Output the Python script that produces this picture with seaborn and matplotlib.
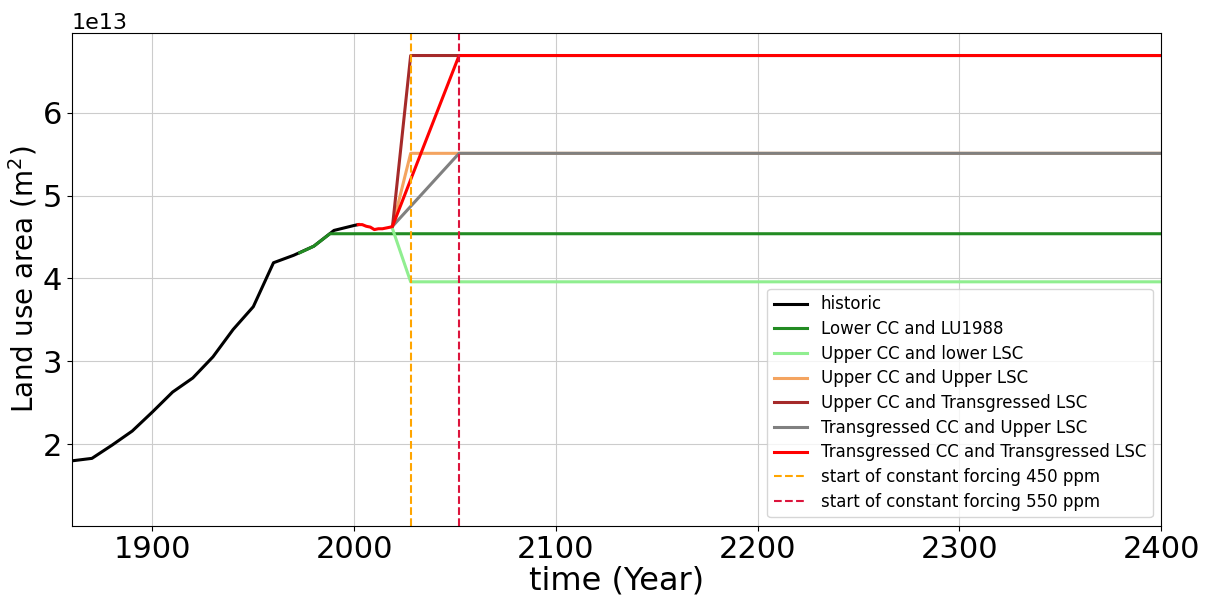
import matplotlib
matplotlib.use("Agg")
import matplotlib.pyplot as plt
import seaborn as sns
import pandas as pd

# values in units of 1e13 m^2
hist_years = [1860, 1870, 1880, 1890, 1900, 1910, 1920, 1930, 1940, 1950,
              1960, 1970, 1980, 1990, 2000, 2002]
hist_vals = [1.80, 1.83, 1.99, 2.16, 2.39, 2.63, 2.80, 3.055, 3.385, 3.66,
             4.19, 4.28, 4.39, 4.58, 4.64, 4.65]

# recent annual values (2002-2019)
recent_years = [2002, 2004, 2005, 2006, 2008, 2010, 2012, 2014, 2016, 2018, 2019]
recent_vals = [4.65, 4.65, 4.64, 4.63, 4.62, 4.59, 4.60, 4.60, 4.61, 4.62, 4.63]

lower_lu1988_years = [1973, 1980, 1988, 2400]
lower_lu1988_vals = [4.31, 4.39, 4.54, 4.54]

upper_lower_years = [2019, 2028, 2400]
upper_lower_vals = [4.60, 3.96, 3.96]

upper_upper_years = [2019, 2028, 2400]
upper_upper_vals = [4.63, 5.51, 5.51]

upper_trans_years = [2019, 2028, 2400]
upper_trans_vals = [4.63, 6.69, 6.69]

trans_upper_years = [2019, 2052, 2400]
trans_upper_vals = [4.63, 5.51, 5.51]

trans_trans_years = recent_years + [2052, 2400]
trans_trans_vals = recent_vals + [6.69, 6.69]

forcing_450 = 2028
forcing_550 = 2052

series = [
    ("historic", hist_years, hist_vals, "black"),
    ("Lower CC and LU1988", lower_lu1988_years, lower_lu1988_vals, "forestgreen"),
    ("Upper CC and lower LSC", upper_lower_years, upper_lower_vals, "lightgreen"),
    ("Upper CC and Upper LSC", upper_upper_years, upper_upper_vals, "sandybrown"),
    ("Upper CC and Transgressed LSC", upper_trans_years, upper_trans_vals, "brown"),
    ("Transgressed CC and Upper LSC", trans_upper_years, trans_upper_vals, "gray"),
    ("Transgressed CC and Transgressed LSC", trans_trans_years, trans_trans_vals, "red"),
]

rows = []
for name, yrs, vals, _ in series:
    for y, v in zip(yrs, vals):
        rows.append({"Year": y, "Area": v * 1e13, "Scenario": name})
df = pd.DataFrame(rows)
palette = {name: col for name, _, _, col in series}
order = [name for name, _, _, _ in series]

fig = plt.figure(figsize=(12.12, 5.99), dpi=100)
ax = fig.add_axes([0.0592, 0.1224, 0.8988, 0.822])

sns.lineplot(data=df, x="Year", y="Area", hue="Scenario", hue_order=order,
             palette=palette, linewidth=2.2, ax=ax, estimator=None, sort=True)

ax.axvline(forcing_450, color="orange", linestyle="--", linewidth=1.5,
           label="start of constant forcing 450 ppm")
ax.axvline(forcing_550, color="crimson", linestyle="--", linewidth=1.5,
           label="start of constant forcing 550 ppm")

ax.set_xlim(1860, 2400)
ax.set_ylim(1.018e13, 6.958e13)
ax.grid(True, color="#cccccc")
ax.set_axisbelow(True)
ax.set_xlabel("time (Year)", fontsize=23, labelpad=1)
ax.set_ylabel("Land use area (m$^2$)", fontsize=20, labelpad=2)
ax.tick_params(axis="both", labelsize=22)
ax.yaxis.get_offset_text().set_fontsize(16)

handles, labels = ax.get_legend_handles_labels()
ax.legend(handles, labels, loc="lower right", fontsize=12, labelspacing=0.4)

fig.savefig("out.png", dpi=100)
